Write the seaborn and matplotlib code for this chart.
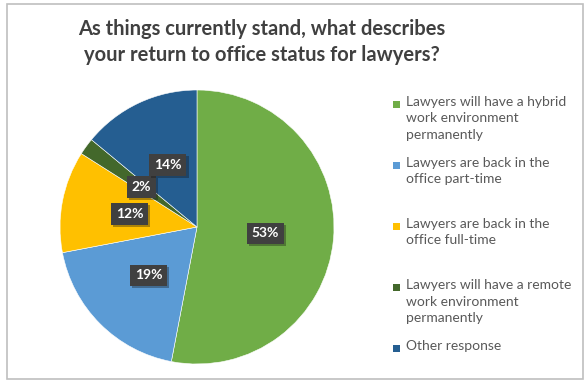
import matplotlib
matplotlib.use('Agg')
import matplotlib.pyplot as plt
import matplotlib.patheffects as pe
from matplotlib.patches import Rectangle
import seaborn as sns

# Data
categories = [
    'Lawyers will have a hybrid\nwork environment\npermanently',
    'Lawyers are back in the\noffice part-time',
    'Lawyers are back in the\noffice full-time',
    'Lawyers will have a remote\nwork environment\npermanently',
    'Other response',
]
shares = [53, 19, 12, 2, 14]
colors = ['#70AD47', '#5B9BD5', '#FFC000', '#43682B', '#255E91']
title = 'As things currently stand, what describes\nyour return to office status for lawyers?'

sns.set_theme(style='white')
plt.rcParams['font.family'] = ['Lato', 'DejaVu Sans']

W, H = 586, 382
fig = plt.figure(figsize=(W / 100, H / 100), dpi=100)
fig.patch.set_facecolor('white')

# light grey chart border
fig.add_artist(Rectangle((6.5 / W, 3 / H), 576 / W, 375.5 / H, transform=fig.transFigure,
                         fill=False, edgecolor='#BFBFBF', linewidth=1.2))

# pie axes: centre ~ (197, 227) px, radius ~137 px
cx, cy, r = 197, 227, 137
ax = fig.add_axes([(cx - r) / W, (H - cy - r) / H, 2 * r / W, 2 * r / H])
wedges, _, autotexts = ax.pie(
    shares, colors=colors, startangle=90, counterclock=False,
    autopct=lambda p: f'{p:.0f}%', pctdistance=0.5,
    wedgeprops=dict(edgecolor='white', linewidth=0.4),
    textprops=dict(color='white', fontsize=10, fontweight='bold'),
)
ax.set_xlim(-1, 1)
ax.set_ylim(-1, 1)
ax.set_aspect('equal')
for t in autotexts:
    t.set_bbox(dict(boxstyle='square,pad=0.35', facecolor='#404040', edgecolor='none'))
    t.get_bbox_patch().set_path_effects([pe.SimplePatchShadow(offset=(1.5, -1.5), alpha=0.35),
                                         pe.Normal()])

fig.text(262 / W, 1 - 42 / H, title, ha='center', va='center', fontsize=14.5,
         fontweight='bold', color='#404040', linespacing=1.4)

# legend drawn by hand so entries are evenly spaced like the original
y0 = 104
step = 61
for i, (lab, col) in enumerate(zip(categories, colors)):
    y = y0 + i * step
    fig.add_artist(Rectangle((392.5 / W, 1 - (y + 4) / H), 7.5 / W, 7.5 / H,
                             transform=fig.transFigure, facecolor=col, edgecolor='none'))
    fig.text(406 / W, 1 - (y - 8) / H, lab, ha='left', va='top', fontsize=10,
             color='#595959', linespacing=1.45)

fig.savefig('out.png', dpi=100)
